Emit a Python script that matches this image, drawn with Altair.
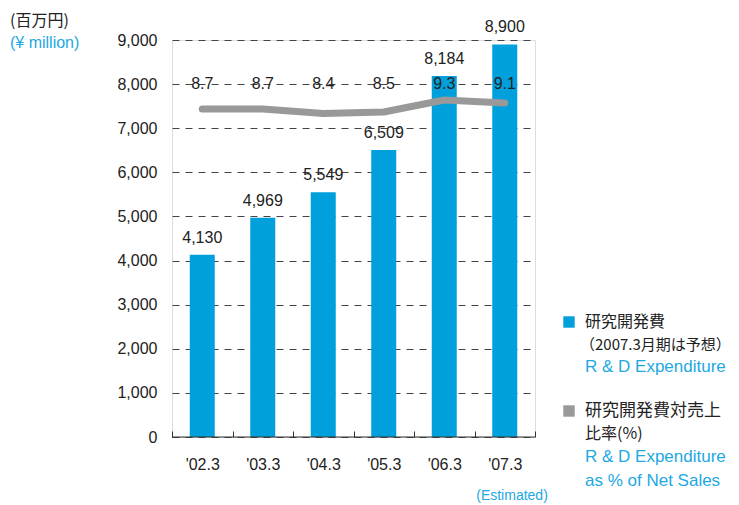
import altair as alt
import pandas as pd

years = ["'02.3", "'03.3", "'04.3", "'05.3", "'06.3", "'07.3"]
rd_expenditure = [4130, 4969, 5549, 6509, 8184, 8900]
rd_ratio = [8.7, 8.7, 8.4, 8.5, 9.3, 9.1]
rd_labels = ["4,130", "4,969", "5,549", "6,509", "8,184", "8,900"]
ratio_labels = ["8.7", "8.7", "8.4", "8.5", "9.3", "9.1"]

df = pd.DataFrame({
    "year": years,
    "rd": rd_expenditure,
    "ratio": rd_ratio,
    "rd_label": rd_labels,
    "ratio_label": ratio_labels,
})

BLUE = "#00a0dc"
LBLUE = "#22a8e2"
GRAY = "#999999"
TXT = "#222222"
FONT = "Liberation Sans"
JFONT = "Noto Sans CJK JP"

x_enc = alt.X(
    "year:N",
    sort=years,
    title=None,
    scale=alt.Scale(paddingInner=0, paddingOuter=0),
    axis=alt.Axis(
        domain=False,
        tickBand="extent",
        tickSize=6,
        offset=-6,
        tickColor="#333333",
        labelPadding=19,
        labelAngle=0,
        labelFontSize=16,
        labelFont=FONT,
        labelColor=TXT,
        grid=False,
    ),
)

y_scale = alt.Scale(domain=[0, 9000], nice=False)

base = alt.Chart(df)

bars = base.mark_bar(color=BLUE, width=25).encode(
    x=x_enc,
    y=alt.Y(
        "rd:Q",
        scale=y_scale,
        title=None,
        axis=alt.Axis(
            values=list(range(0, 9001, 1000)),
            format=",d",
            domain=False,
            ticks=False,
            labelPadding=15,
            labelFontSize=16,
            labelFont=FONT,
            labelColor=TXT,
            grid=True,
            gridDash=[7, 6],
            gridColor="#444444",
            gridWidth=1,
        ),
    ),
)

axis_line = alt.Chart(pd.DataFrame({"v": [0]})).mark_rule(color="#333333", strokeWidth=1).encode(
    y=alt.Y("v:Q", scale=y_scale)
)

bar_text = base.mark_text(baseline="bottom", dy=-9, fontSize=16, font=FONT, color=TXT).encode(
    x=alt.X("year:N", sort=years),
    y=alt.Y("rd:Q", scale=y_scale),
    text="rd_label:N",
)

ratio_text = base.mark_text(baseline="middle", fontSize=16, font=FONT, color=TXT).encode(
    x=alt.X("year:N", sort=years),
    y=alt.datum(8000, scale=y_scale),
    text="ratio_label:N",
)

primary = alt.layer(bars, axis_line, bar_text, ratio_text)

line = base.mark_line(color=GRAY, strokeWidth=7, strokeCap="round", strokeJoin="round").encode(
    x=alt.X("year:N", sort=years),
    y=alt.Y("ratio:Q", scale=alt.Scale(domain=[-13.17, 13.3], nice=False, zero=False), axis=None),
)

def txt(s, x, y, color=TXT, size=16, font=FONT, align="left"):
    return alt.Chart(pd.DataFrame({"t": [s]})).mark_text(
        align=align, baseline="middle", fontSize=size, font=font, color=color
    ).encode(text="t:N", x=alt.value(x), y=alt.value(y))

def sq(color, x, y):
    return alt.Chart(pd.DataFrame({"t": [1]})).mark_square(
        color=color, size=130, opacity=1, filled=True
    ).encode(x=alt.value(x), y=alt.value(y))

OX, OY = 172, 40
annotations = [
    txt("(百万円)", 10 - OX, 21 - OY, size=16, font=JFONT),
    txt("(¥ million)", 10 - OX, 43 - OY, color=LBLUE, size=16),
    txt("(Estimated)", 512 - OX, 496 - OY, color=LBLUE, size=14, align="center"),
    sq(BLUE, 569 - OX, 322 - OY),
    txt("研究開発費", 585 - OX, 322 - OY, size=16, font=JFONT),
    txt("（2007.3月期は予想）", 580 - OX, 345 - OY, size=15, font=JFONT),
    txt("R & D Expenditure", 585 - OX, 367 - OY, color=LBLUE, size=17),
    sq(GRAY, 569 - OX, 411 - OY),
    txt("研究開発費対売上", 585 - OX, 411 - OY, size=17, font=JFONT),
    txt("比率(%)", 585 - OX, 434 - OY, size=16, font=JFONT),
    txt("R & D Expenditure", 585 - OX, 457 - OY, color=LBLUE, size=17),
    txt("as % of Net Sales", 585 - OX, 481 - OY, color=LBLUE, size=17),
]

chart = alt.layer(primary, line).resolve_scale(y="independent")
chart = alt.layer(chart, *annotations).properties(
    width=363,
    height=397,
    autosize=alt.AutoSizeParams(type="none"),
    padding={"left": 164, "top": 32, "right": 196, "bottom": 68},
).configure_view(stroke=None).configure(background="white")

chart.save("out.html", embed_options={"renderer": "svg", "actions": False})
